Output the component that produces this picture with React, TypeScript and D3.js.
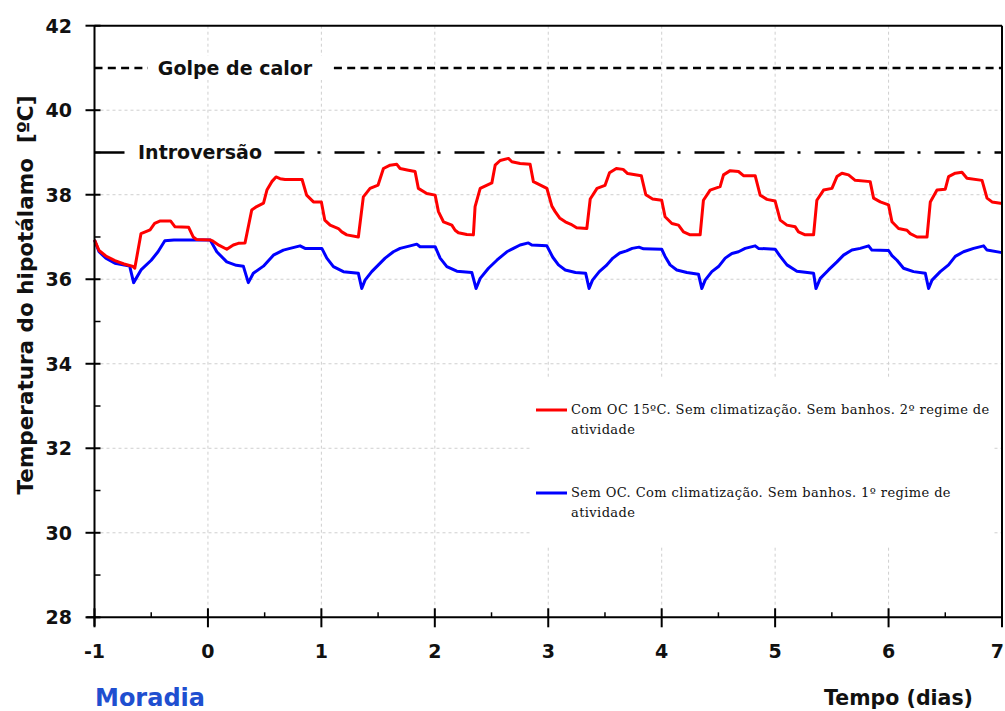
import React from "react";
import * as d3 from "d3";

const W = 1005;
const H = 711;

const xTicks = [-1, 0, 1, 2, 3, 4, 5, 6, 7];
const yTicks = [28, 30, 32, 34, 36, 38, 40, 42];
const xMinorTicks = [-0.5, 0.5, 1.5, 2.5, 3.5, 4.5, 5.5, 6.5];
const yMinorTicks = [29, 31, 33, 35, 37, 39, 41];

const refLevels = [41, 39];
const refLabels = ["Golpe de calor", "Introversão"];

const legendLabels = [
  ["Com OC 15ºC. Sem climatização. Sem banhos. 2º regime de", "atividade"],
  ["Sem OC. Com climatização. Sem banhos. 1º regime de", "atividade"],
];
const seriesColors = ["#ff0000", "#0000ff"];

// Red series: Com OC 15ºC ... 2º regime
const redSeries: [number, number][] = [
  [-1.0, 36.93], [-0.96, 36.68], [-0.9, 36.55], [-0.82, 36.44], [-0.74, 36.36], [-0.66, 36.3], [-0.645, 36.26],
  [-0.59, 37.08], [-0.51, 37.17], [-0.47, 37.32], [-0.42, 37.38], [-0.33, 37.38], [-0.29, 37.24], [-0.17, 37.23],
  [-0.13, 37.0], [-0.1, 36.94], [0.02, 36.93],
  [0.045, 36.9], [0.1, 36.8], [0.166, 36.71], [0.224, 36.81], [0.268, 36.85], [0.327, 36.86], [0.386, 37.64],
  [0.43, 37.72], [0.49, 37.8], [0.52, 38.11], [0.563, 38.31], [0.6, 38.42], [0.636, 38.38], [0.68, 38.36],
  [0.83, 38.36], [0.87, 37.99], [0.93, 37.83], [1.0, 37.83],
  [1.03, 37.4], [1.077, 37.28], [1.15, 37.2], [1.18, 37.12], [1.224, 37.05], [1.326, 37.0], [1.37, 37.95],
  [1.429, 38.15], [1.5, 38.23], [1.547, 38.62], [1.606, 38.7], [1.665, 38.72], [1.694, 38.62], [1.767, 38.58],
  [1.826, 38.55], [1.855, 38.15], [1.929, 38.03], [2.003, 37.99],
  [2.032, 37.6], [2.076, 37.36], [2.15, 37.28], [2.179, 37.16], [2.208, 37.1], [2.282, 37.06], [2.34, 37.05],
  [2.355, 37.72], [2.4, 38.15], [2.503, 38.28], [2.532, 38.7], [2.576, 38.81], [2.649, 38.86], [2.679, 38.78],
  [2.752, 38.74], [2.84, 38.72], [2.869, 38.31], [2.988, 38.15], [3.032, 37.73], [3.061, 37.6],
  [3.1, 37.45], [3.15, 37.36], [3.2, 37.3], [3.25, 37.22], [3.34, 37.2], [3.37, 37.9], [3.43, 38.15],
  [3.5, 38.22], [3.54, 38.52], [3.6, 38.62], [3.66, 38.6], [3.7, 38.5], [3.82, 38.45], [3.86, 38.0],
  [3.92, 37.9], [4.0, 37.87],
  [4.03, 37.48], [4.09, 37.32], [4.148, 37.28], [4.192, 37.12], [4.251, 37.05], [4.339, 37.05], [4.368, 37.87],
  [4.427, 38.11], [4.515, 38.19], [4.545, 38.47], [4.604, 38.57], [4.677, 38.55], [4.721, 38.45], [4.824, 38.45],
  [4.868, 37.99], [4.928, 37.89], [5.0, 37.85],
  [5.045, 37.4], [5.104, 37.28], [5.177, 37.24], [5.206, 37.12], [5.265, 37.05], [5.339, 37.05], [5.368, 37.87],
  [5.427, 38.11], [5.501, 38.15], [5.545, 38.43], [5.589, 38.51], [5.647, 38.47], [5.706, 38.34], [5.838, 38.31],
  [5.868, 37.92], [5.927, 37.83], [6.0, 37.76],
  [6.03, 37.36], [6.088, 37.2], [6.162, 37.16], [6.191, 37.08], [6.25, 37.0], [6.339, 37.0], [6.368, 37.83],
  [6.427, 38.11], [6.5, 38.13], [6.529, 38.43], [6.588, 38.51], [6.647, 38.53], [6.691, 38.39], [6.824, 38.34],
  [6.868, 37.92], [6.912, 37.83], [7.0, 37.79],
];

// Blue series: Sem OC ... 1º regime
const blueSeries: [number, number][] = [
  [-1.0, 36.93], [-0.96, 36.65], [-0.9, 36.5], [-0.82, 36.38], [-0.69, 36.31], [-0.655, 35.92], [-0.59, 36.22],
  [-0.5, 36.45], [-0.44, 36.65], [-0.38, 36.91], [-0.3, 36.93], [0.02, 36.93],
  [0.078, 36.65], [0.166, 36.41], [0.25, 36.33], [0.312, 36.31], [0.356, 35.92], [0.4, 36.14], [0.489, 36.31],
  [0.577, 36.57], [0.665, 36.69], [0.724, 36.73], [0.812, 36.79], [0.856, 36.73], [1.004, 36.73],
  [1.048, 36.5], [1.106, 36.3], [1.194, 36.18], [1.326, 36.14], [1.356, 35.78], [1.385, 35.98], [1.444, 36.18],
  [1.503, 36.34], [1.562, 36.5], [1.635, 36.65], [1.694, 36.73], [1.782, 36.79], [1.841, 36.83], [1.87, 36.77],
  [2.003, 36.77],
  [2.047, 36.5], [2.106, 36.3], [2.194, 36.19], [2.326, 36.16], [2.364, 35.78], [2.4, 36.02], [2.473, 36.26],
  [2.547, 36.45], [2.635, 36.65], [2.693, 36.73], [2.752, 36.81], [2.825, 36.86], [2.855, 36.81], [2.988, 36.79],
  [3.04, 36.52], [3.09, 36.34], [3.15, 36.22], [3.24, 36.16], [3.33, 36.14], [3.36, 35.78], [3.39, 35.98],
  [3.45, 36.18], [3.51, 36.32], [3.57, 36.5], [3.63, 36.62], [3.69, 36.67], [3.74, 36.73], [3.8, 36.76],
  [3.84, 36.72], [4.0, 36.71],
  [4.03, 36.54], [4.074, 36.34], [4.133, 36.22], [4.222, 36.16], [4.324, 36.12], [4.354, 35.78], [4.383, 35.98],
  [4.442, 36.18], [4.501, 36.3], [4.56, 36.5], [4.619, 36.61], [4.677, 36.65], [4.736, 36.73], [4.824, 36.79],
  [4.853, 36.73], [5.0, 36.71],
  [5.045, 36.54], [5.104, 36.34], [5.192, 36.19], [5.339, 36.14], [5.36, 35.78], [5.398, 36.02], [5.471, 36.22],
  [5.545, 36.41], [5.603, 36.57], [5.677, 36.69], [5.75, 36.73], [5.824, 36.79], [5.853, 36.69], [6.0, 36.68],
  [6.03, 36.56], [6.074, 36.45], [6.132, 36.26], [6.22, 36.18], [6.324, 36.14], [6.353, 35.78], [6.383, 35.98],
  [6.456, 36.18], [6.529, 36.34], [6.588, 36.54], [6.661, 36.65], [6.75, 36.73], [6.838, 36.79], [6.868, 36.69],
  [7.0, 36.63],
];

const SANS = "'DejaVu Sans', sans-serif";
const SERIF = "'DejaVu Serif', serif";

export default function App() {
  const left = 94.5;
  const right = 1002;
  const top = 25.7;
  const bottom = 617.3;
  const x = d3.scaleLinear().domain([-1, 7]).range([left, right]);
  const y = d3.scaleLinear().domain([28, 42]).range([bottom, top]);
  const line = d3
    .line<[number, number]>()
    .x((d) => x(d[0]))
    .y((d) => y(d[1]));

  const refDash = ["8,5.3", "30,13,3,14"];
  const refLabelX = [235, 200];
  const refLabelBox = [
    [148, 333],
    [127, 272],
  ];

  return (
    <svg
      width={W}
      height={H}
      style={{ position: "absolute", left: 0, top: 0, display: "block", background: "#fff" }}
    >
      <rect x={0} y={0} width={W} height={H} fill="#fff" />
      {/* gridlines */}
      {xTicks
        .filter((t) => t > -1 && t < 7)
        .map((t) => (
          <line key={"gx" + t} x1={x(t)} x2={x(t)} y1={top} y2={bottom} stroke="#cfcfcf" strokeWidth={1} strokeDasharray="3,3" />
        ))}
      {yTicks
        .filter((t) => t > 28 && t < 42)
        .map((t) => (
          <line key={"gy" + t} x1={left} x2={right} y1={y(t)} y2={y(t)} stroke="#cfcfcf" strokeWidth={1} strokeDasharray="3,3" />
        ))}
      {/* legend background */}
      <rect x={530} y={378} width={463} height={169} fill="#fff" />
      {/* reference lines */}
      {refLevels.map((lv, i) => (
        <g key={"ref" + i}>
          <line x1={left} x2={right} y1={y(lv)} y2={y(lv)} stroke="#000" strokeWidth={2.6} strokeDasharray={refDash[i]} />
          <rect x={refLabelBox[i][0]} y={y(lv) - 12} width={refLabelBox[i][1] - refLabelBox[i][0]} height={24} fill="#fff" />
          <text x={refLabelX[i]} y={y(lv) + 7} textAnchor="middle" fontFamily={SANS} fontWeight="bold" fontSize={19} fill="#111">
            {refLabels[i]}
          </text>
        </g>
      ))}
      {/* series */}
      <path d={line(blueSeries) || ""} fill="none" stroke={seriesColors[1]} strokeWidth={3} strokeLinejoin="round" />
      <path d={line(redSeries) || ""} fill="none" stroke={seriesColors[0]} strokeWidth={3} strokeLinejoin="round" />
      {/* legend */}
      {legendLabels.map((lab, i) => {
        const ly = [410, 493][i];
        return (
          <g key={"leg" + i}>
            <line x1={536} x2={567} y1={ly} y2={ly} stroke={seriesColors[i]} strokeWidth={3} />
            <text x={571} y={ly + 4} fontFamily={SERIF} fontSize={13} letterSpacing={0.4} fill="#111">
              {lab[0]}
            </text>
            <text x={571} y={ly + 24} fontFamily={SERIF} fontSize={13} letterSpacing={0.4} fill="#111">
              {lab[1]}
            </text>
          </g>
        );
      })}
      {/* frame */}
      <line x1={left} x2={right} y1={top} y2={top} stroke="#000" strokeWidth={2} />
      <line x1={right} x2={right} y1={top} y2={bottom} stroke="#000" strokeWidth={2} />
      {/* axes */}
      <line x1={left} x2={left} y1={top} y2={bottom + 9} stroke="#000" strokeWidth={2} />
      <line x1={left - 8} x2={right} y1={bottom} y2={bottom} stroke="#000" strokeWidth={2} />
      {yTicks.map((t) => (
        <g key={"yt" + t}>
          <line x1={left - 9} x2={left + 6} y1={y(t)} y2={y(t)} stroke="#000" strokeWidth={2} />
          <text x={72} y={y(t) + 7} textAnchor="end" fontFamily={SANS} fontWeight="bold" fontSize={19} fill="#111">
            {t}
          </text>
        </g>
      ))}
      {yMinorTicks.map((t) => (
        <line key={"ymt" + t} x1={left} x2={left + 6} y1={y(t)} y2={y(t)} stroke="#000" strokeWidth={1.5} />
      ))}
      {xTicks.map((t) => {
        const last = t === xTicks[xTicks.length - 1];
        return (
          <g key={"xt" + t}>
            <line x1={x(t)} x2={x(t)} y1={bottom - 9} y2={bottom + 10} stroke="#000" strokeWidth={2} />
            <text
              x={last ? W - 1 : x(t)}
              y={658}
              textAnchor={last ? "end" : "middle"}
              fontFamily={SANS}
              fontWeight="bold"
              fontSize={19}
              fill="#111"
            >
              {t}
            </text>
          </g>
        );
      })}
      {xMinorTicks.map((t) => (
        <line key={"xmt" + t} x1={x(t)} x2={x(t)} y1={bottom - 5} y2={bottom} stroke="#000" strokeWidth={1.5} />
      ))}
      {/* axis titles */}
      <text
        transform="translate(33,295) rotate(-90)"
        textAnchor="middle"
        fontFamily={SANS}
        fontWeight="bold"
        fontSize={21.5}
        fill="#111"
        style={{ whiteSpace: "pre" }}
      >
        {"Temperatura do hipotálamo  [ºC]"}
      </text>
      <text x={973} y={705} textAnchor="end" fontFamily={SANS} fontWeight="bold" fontSize={20.5} fill="#111">
        Tempo (dias)
      </text>
      <text x={95} y={706} fontFamily={SANS} fontWeight="bold" fontSize={24} fill="#1f4fd0">
        Moradia
      </text>
    </svg>
  );
}
